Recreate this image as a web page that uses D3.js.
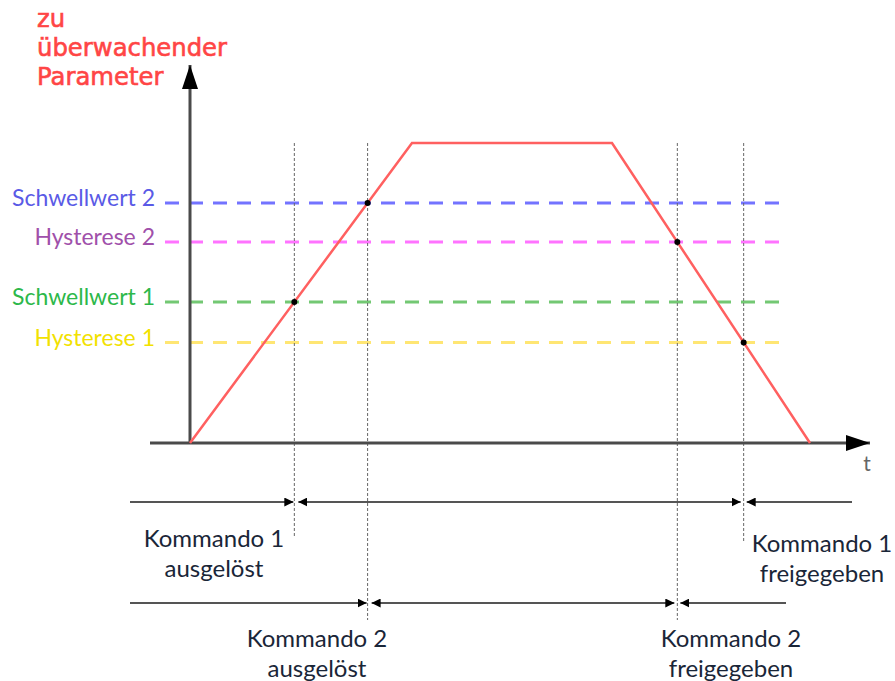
<!DOCTYPE html>
<html><head><meta charset="utf-8">
<script src="https://cdn.jsdelivr.net/npm/d3@7"></script>
<style>html,body{margin:0;padding:0;background:#fff;}svg{display:block;}</style>
</head><body>
<script>
// ---- data ----
const profileT = [0, 22.2, 42.2, 62.0];
const profileV = [0, 100, 100, 0];
const thresholdNames = ["Schwellwert 2", "Hysterese 2", "Schwellwert 1", "Hysterese 1"];
const thresholdValues = [80, 67, 47, 33.5];
const thresholdLineColors = ["#7373ff", "#ff73ff", "#73c873", "#ffe673"];
const thresholdTextColors = ["#5a5ae6", "#a050aa", "#2db84a", "#f2e100"];
const titleLines = ["zu", "überwachender", "Parameter"];
const axisLabelT = "t";
// command events: which threshold crossing (index into thresholds) and on which slope
const cmd1 = {on: 2, off: 3, labelOn: ["Kommando 1", "ausgelöst"], labelOff: ["Kommando 1", "freigegeben"]};
const cmd2 = {on: 0, off: 1, labelOn: ["Kommando 2", "ausgelöst"], labelOff: ["Kommando 2", "freigegeben"]};

const W = 895, H = 681;
const svg = d3.select("body").append("svg").attr("width", W).attr("height", H);
const x = d3.scaleLinear().domain([0, 62]).range([190, 810]);
const y = d3.scaleLinear().domain([0, 100]).range([443, 143]);

const defs = svg.append("defs");
function marker(id, size) {
  defs.append("marker").attr("id", id).attr("viewBox", "0 0 10 10").attr("refX", 10).attr("refY", 5)
    .attr("markerWidth", size).attr("markerHeight", size).attr("markerUnits", "userSpaceOnUse")
    .attr("orient", "auto-start-reverse")
    .append("path").attr("d", "M0,0 L10,5 L0,10 Z").attr("fill", "#000");
}
marker("ah", 9);

// crossing times
function riseT(v) { return profileT[0] + (v - profileV[0]) / (profileV[1] - profileV[0]) * (profileT[1] - profileT[0]); }
function fallT(v) { return profileT[2] + (profileV[2] - v) / (profileV[2] - profileV[3]) * (profileT[3] - profileT[2]); }
const tOn1 = riseT(thresholdValues[cmd1.on]), tOff1 = fallT(thresholdValues[cmd1.off]);
const tOn2 = riseT(thresholdValues[cmd2.on]), tOff2 = fallT(thresholdValues[cmd2.off]);

// threshold lines
thresholdValues.forEach((v, i) => {
  svg.append("line").attr("x1", x(-2.5)).attr("x2", x(59)).attr("y1", y(v)).attr("y2", y(v))
    .attr("stroke", thresholdLineColors[i]).attr("stroke-width", 3).attr("stroke-dasharray", "14,10");
  svg.append("text").attr("x", 155).attr("y", y(v) + 3).attr("text-anchor", "end")
    .attr("font-family", "Lato, 'Open Sans', sans-serif").attr("font-size", 23)
    .attr("fill", thresholdTextColors[i]).text(thresholdNames[i]);
});

// vertical dotted lines
const vLines = [[tOn1, 537], [tOn2, 620], [tOff2, 620], [tOff1, 542]];
vLines.forEach(([t, yb]) => {
  svg.append("line").attr("x1", x(t)).attr("x2", x(t)).attr("y1", y(100)).attr("y2", yb)
    .attr("stroke", "#666").attr("stroke-width", 1).attr("stroke-dasharray", "3,2");
});

// axes
svg.append("line").attr("x1", x(0)).attr("x2", x(0)).attr("y1", y(0)).attr("y2", y(126))
  .attr("stroke", "#4a4a4a").attr("stroke-width", 3);
svg.append("path").attr("d", `M${x(0)},${y(126)} L${x(0)-8},${y(126)+24} L${x(0)+8},${y(126)+24} Z`).attr("fill", "#000");
svg.append("line").attr("x1", x(-4)).attr("x2", x(68)).attr("y1", y(0)).attr("y2", y(0))
  .attr("stroke", "#4a4a4a").attr("stroke-width", 3);
svg.append("path").attr("d", `M${x(68)},${y(0)} L${x(68)-24},${y(0)-8} L${x(68)-24},${y(0)+8} Z`).attr("fill", "#000");
svg.append("text").attr("x", 867).attr("y", 471).attr("text-anchor", "middle")
  .attr("font-family", "Lato, sans-serif").attr("font-size", 21).attr("fill", "#666").text(axisLabelT);

// profile
const pts = profileT.map((t, i) => [x(t), y(profileV[i])]);
svg.append("path").attr("d", d3.line()(pts)).attr("fill", "none").attr("stroke", "#ff6060").attr("stroke-width", 2.5);

// dots
[[tOn1, thresholdValues[cmd1.on]], [tOn2, thresholdValues[cmd2.on]], [tOff2, thresholdValues[cmd2.off]], [tOff1, thresholdValues[cmd1.off]]]
  .forEach(([t, v]) => svg.append("circle").attr("cx", x(t)).attr("cy", y(v)).attr("r", 3).attr("fill", "#000"));

// title
svg.append("text").attr("font-family", "'DejaVu Sans', sans-serif")
  .attr("font-size", 24.3).attr("fill", "#ff4545").attr("stroke", "#ff4545").attr("stroke-width", 0.6)
  .selectAll("tspan").data(titleLines).join("tspan").attr("x", 37).attr("y", (d, i) => 27 + i * 29).text(d => d);

// bottom timelines
function timeline(yy, tOn, tOff, leftEnd, rightEnd) {
  const g = svg.append("g").attr("stroke", "#555").attr("stroke-width", 2.2);
  g.append("line").attr("x1", leftEnd).attr("x2", x(tOn) - 1).attr("y1", yy).attr("y2", yy).attr("marker-end", "url(#ah)");
  g.append("line").attr("x1", x(tOn) + 4).attr("x2", x(tOff) - 3).attr("y1", yy).attr("y2", yy)
    .attr("marker-start", "url(#ah)").attr("marker-end", "url(#ah)");
  g.append("line").attr("x1", x(tOff) + 3).attr("x2", rightEnd).attr("y1", yy).attr("y2", yy).attr("marker-start", "url(#ah)");
}
timeline(502, tOn1, tOff1, 130, 852);
timeline(603, tOn2, tOff2, 130, 786);

function label(cx, yBase, lines) {
  svg.append("text").attr("text-anchor", "middle").attr("font-family", "Lato, 'Open Sans', sans-serif")
    .attr("font-size", 24).attr("fill", "#1a2638")
    .selectAll("tspan").data(lines).join("tspan").attr("x", cx).attr("y", (d, i) => yBase + i * 30).text(d => d);
}
label(214, 547, cmd1.labelOn);
label(822, 552, cmd1.labelOff);
label(317, 647, cmd2.labelOn);
label(731, 647, cmd2.labelOff);
</script>
</body></html>
